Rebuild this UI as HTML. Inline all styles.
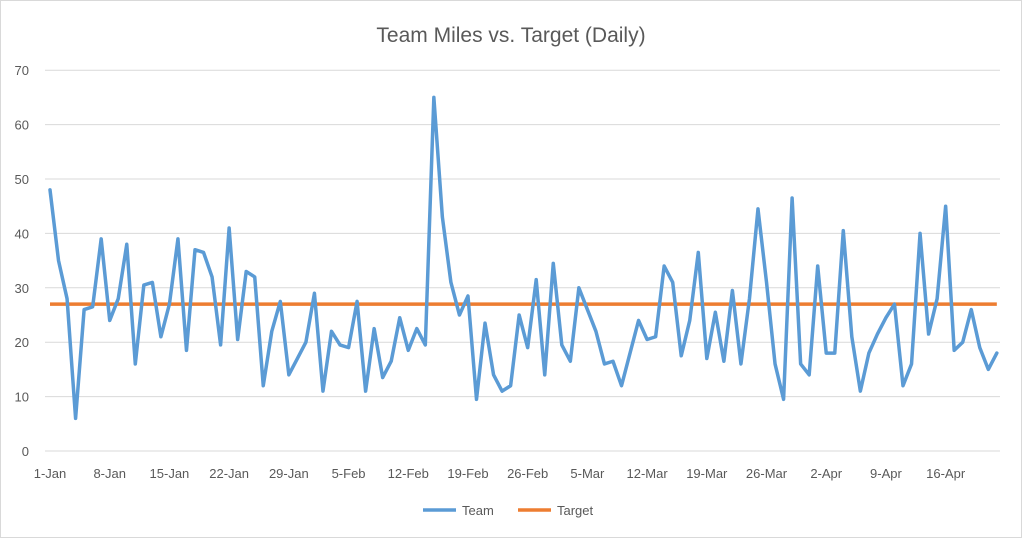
<!DOCTYPE html>
<html><head><meta charset="utf-8"><style>
html,body{margin:0;padding:0;background:#fff;}
svg text{font-family:"Liberation Sans",sans-serif;fill:#595959;}
</style></head><body>
<svg width="1022" height="538" viewBox="0 0 1022 538">
<rect x="0.5" y="0.5" width="1021" height="537" fill="#fff" stroke="#d9d9d9"/>
<text x="511" y="42" font-size="21" text-anchor="middle">Team Miles vs. Target (Daily)</text>
<g id="grid"></g>
<g id="ylab"></g>
<g id="xlab"></g>
<g id="series"></g>
<g>
<line x1="423" y1="510" x2="456" y2="510" stroke="#5b9bd5" stroke-width="3.5"/>
<text x="462" y="515" font-size="13">Team</text>
<line x1="518" y1="510" x2="551" y2="510" stroke="#ed7d31" stroke-width="3.5"/>
<text x="557" y="515" font-size="13">Target</text>
</g>
</svg>
<script>
const team = [48,35,28,6,26,26.5,39,24,28,38,16,30.5,31,21,27,39,18.5,37,36.5,32,19.5,41,20.5,33,32,12,22,27.5,14,17,20,
29,11,22,19.5,19,27.5,11,22.5,13.5,16.5,24.5,18.5,22.5,19.5,65,43,31,25,28.5,9.5,23.5,14,11,12,25,19,31.5,14,
34.5,19.5,16.5,30,26,22,16,16.5,12,18,24,20.5,21,34,31,17.5,24,36.5,17,25.5,16.5,29.5,16,28,44.5,31,16,9.5,46.5,16,14,
34,18,18,40.5,21,11,18,21.5,24.5,27,12,16,40,21.5,28,45,18.5,20,26,19,15,18];
const target = 27;
const yTicks = [0,10,20,30,40,50,60,70];
const xTickLabels = ["1-Jan","8-Jan","15-Jan","22-Jan","29-Jan","5-Feb","12-Feb","19-Feb","26-Feb","5-Mar","12-Mar","19-Mar","26-Mar","2-Apr","9-Apr","16-Apr"];
const xTickStep = 7;

const NS="http://www.w3.org/2000/svg";
const x0=50, dx=8.53, y0=451, py=5.44, gx1=45, gx2=1000;
const X=i=>x0+i*dx, Y=v=>y0-v*py;
function mk(t,a,p){const e=document.createElementNS(NS,t);for(const k in a)e.setAttribute(k,a[k]);p.appendChild(e);return e;}
const grid=document.getElementById('grid'), ylab=document.getElementById('ylab'), xlab=document.getElementById('xlab'), ser=document.getElementById('series');
yTicks.forEach(v=>{
  const l=mk('line',{x1:gx1,x2:gx2,y1:Y(v),y2:Y(v),stroke:'#d9d9d9','stroke-width':1},grid);
  
  
  const t=mk('text',{x:29,y:Y(v)+5,'font-size':13,'text-anchor':'end'},ylab);
  t.textContent=v;
  
  
});
xTickLabels.forEach((s,k)=>{
  const t=mk('text',{x:X(k*xTickStep),y:478,'font-size':13,'text-anchor':'middle'},xlab);
  t.textContent=s;
  
  
});
const tl=mk('line',{x1:X(0),x2:X(team.length-1),y1:Y(target),y2:Y(target),stroke:'#ed7d31','stroke-width':3.5},ser);


const pl=mk('polyline',{points:team.map((v,i)=>X(i)+','+Y(v)).join(' '),fill:'none',stroke:'#5b9bd5','stroke-width':3.5,'stroke-linejoin':'round','stroke-linecap':'round'},ser);


</script>
</body></html>
